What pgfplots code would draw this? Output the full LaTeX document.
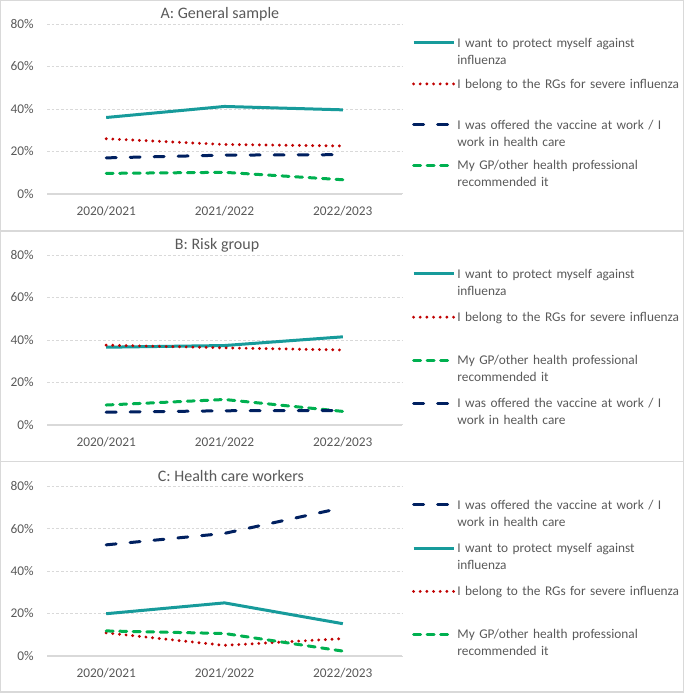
\documentclass[border=0pt]{standalone}
\usepackage{fontspec}
\setmainfont{Carlito}
\usepackage{pgfplots}
\pgfplotsset{compat=1.18}

\definecolor{tealc}{RGB}{23,155,155}
\definecolor{redc}{RGB}{192,0,0}
\definecolor{navyc}{RGB}{0,32,96}
\definecolor{greenc}{RGB}{0,176,80}
\definecolor{txt}{RGB}{89,89,89}
\definecolor{grd}{RGB}{217,217,217}

\newcommand{\two}[2]{\strut #1\\#2\strut}

\pgfplotsset{
  panel/.style={
    scale only axis, width=266.25pt, height=127.5pt, anchor=south west,
    xmin=0.5, xmax=3.5, ymin=0, ymax=80,
    xtick={1,2,3}, xticklabels={2020/2021,2021/2022,2022/2023},
    ytick={0,20,40,60,80}, yticklabels={0\%,20\%,40\%,60\%,80\%},
    axis lines*=left, major tick length=0pt,
    y axis line style={draw=none},
    x axis line style={draw=grd, line width=0.9pt},
    ymajorgrids, grid style={draw=grd, line width=0.75pt, dash pattern=on 2pt off 1.5pt},
    tick label style={font=\fontsize{10}{12}\selectfont, text=txt},
    xticklabel style={yshift=-5.5pt},
    yticklabel style={xshift=-6.5pt},
    title style={font=\fontsize{12}{14}\selectfont, text=txt, anchor=center, yshift=1.5pt},
    legend style={draw=none, fill=none, at={(1.028,0.946)}, anchor=north west,
      inner sep=0pt, outer sep=0pt, font=\fontsize{10}{12.75}\selectfont, text=txt,
      row sep=17.3pt, column sep=0pt,
      nodes={inner sep=1.5pt, text width=172pt, align=left, anchor=base west}},
    legend image code/.code={\draw[##1] (0pt,3.1pt) -- (30.2pt,3.1pt);},
  },
  sTeal/.style={tealc, line width=2.25pt, line join=round},
  sRed/.style={redc, line width=2.4pt, line cap=round, dash pattern=on 0pt off 5pt},
  sNavy/.style={navyc, line width=2.25pt, line cap=round, line join=round, dash pattern=on 7.5pt off 10.5pt},
  sGreen/.style={greenc, line width=2.25pt, line cap=round, line join=round, dash pattern=on 5.25pt off 4.9pt},
}

\begin{document}
\begin{tikzpicture}
\useasboundingbox (0,0) rectangle (513.75pt,519.75pt);
\draw[grd, line width=1pt] (0.4pt,346.5pt) rectangle (512.5pt,519.35pt);
\draw[grd, line width=1pt] (0.4pt,173.5pt) rectangle (512.5pt,346.5pt);
\draw[grd, line width=1pt] (0.4pt,0.75pt) rectangle (512.5pt,173.5pt);

% A: General sample
\begin{axis}[panel, at={(35.25pt,374.25pt)}, title={A: General sample},
  title style={at={(0.487,1)}}]
\addplot[sTeal] coordinates {(1,36.0) (2,41.2) (3,39.6)};
\addlegendentry{\two{I want to protect myself against}{influenza}}
\addplot[sRed] coordinates {(1,26.0) (2,23.3) (3,22.6)};
\addlegendentry{\two{I belong to the RGs for severe influenza}{}}
\addplot[sNavy] coordinates {(1,17.0) (2,18.3) (3,18.5)};
\addlegendentry{\two{I was offered the vaccine at work / I}{work in health care}}
\addplot[sGreen] coordinates {(1,9.7) (2,10.2) (3,6.7)};
\addlegendentry{\two{My GP/other health professional}{recommended it}}
\end{axis}

% B: Risk group
\begin{axis}[panel, at={(35.25pt,201pt)}, title={B: Risk group},
  title style={at={(0.479,1)}}, legend style={row sep=19pt}]
\addplot[sTeal] coordinates {(1,36.6) (2,37.4) (3,41.5)};
\addlegendentry{\two{I want to protect myself against}{influenza}}
\addplot[sRed] coordinates {(1,37.6) (2,36.3) (3,35.3)};
\addlegendentry{\two{I belong to the RGs for severe influenza}{}}
\addplot[sGreen] coordinates {(1,9.4) (2,12.0) (3,6.4)};
\addlegendentry{\two{My GP/other health professional}{recommended it}}
\addplot[sNavy] coordinates {(1,6.0) (2,6.7) (3,6.8)};
\addlegendentry{\two{I was offered the vaccine at work / I}{work in health care}}
\end{axis}

% C: Health care workers
\begin{axis}[panel, at={(35.25pt,27.75pt)}, title={C: Health care workers},
  title style={at={(0.518,1)}, yshift=0pt, fill=white, inner xsep=8pt, inner ysep=3pt},
  legend style={row sep=19pt}]
\addplot[sNavy] coordinates {(1,52.3) (2,57.7) (3,69.8)};
\addlegendentry{\two{I was offered the vaccine at work / I}{work in health care}}
\addplot[sTeal] coordinates {(1,19.9) (2,25.0) (3,15.2)};
\addlegendentry{\two{I want to protect myself against}{influenza}}
\addplot[sRed] coordinates {(1,10.9) (2,5.0) (3,8.2)};
\addlegendentry{\two{I belong to the RGs for severe influenza}{}}
\addplot[sGreen] coordinates {(1,11.8) (2,10.6) (3,2.3)};
\addlegendentry{\two{My GP/other health professional}{recommended it}}
\end{axis}
\end{tikzpicture}
\end{document}
